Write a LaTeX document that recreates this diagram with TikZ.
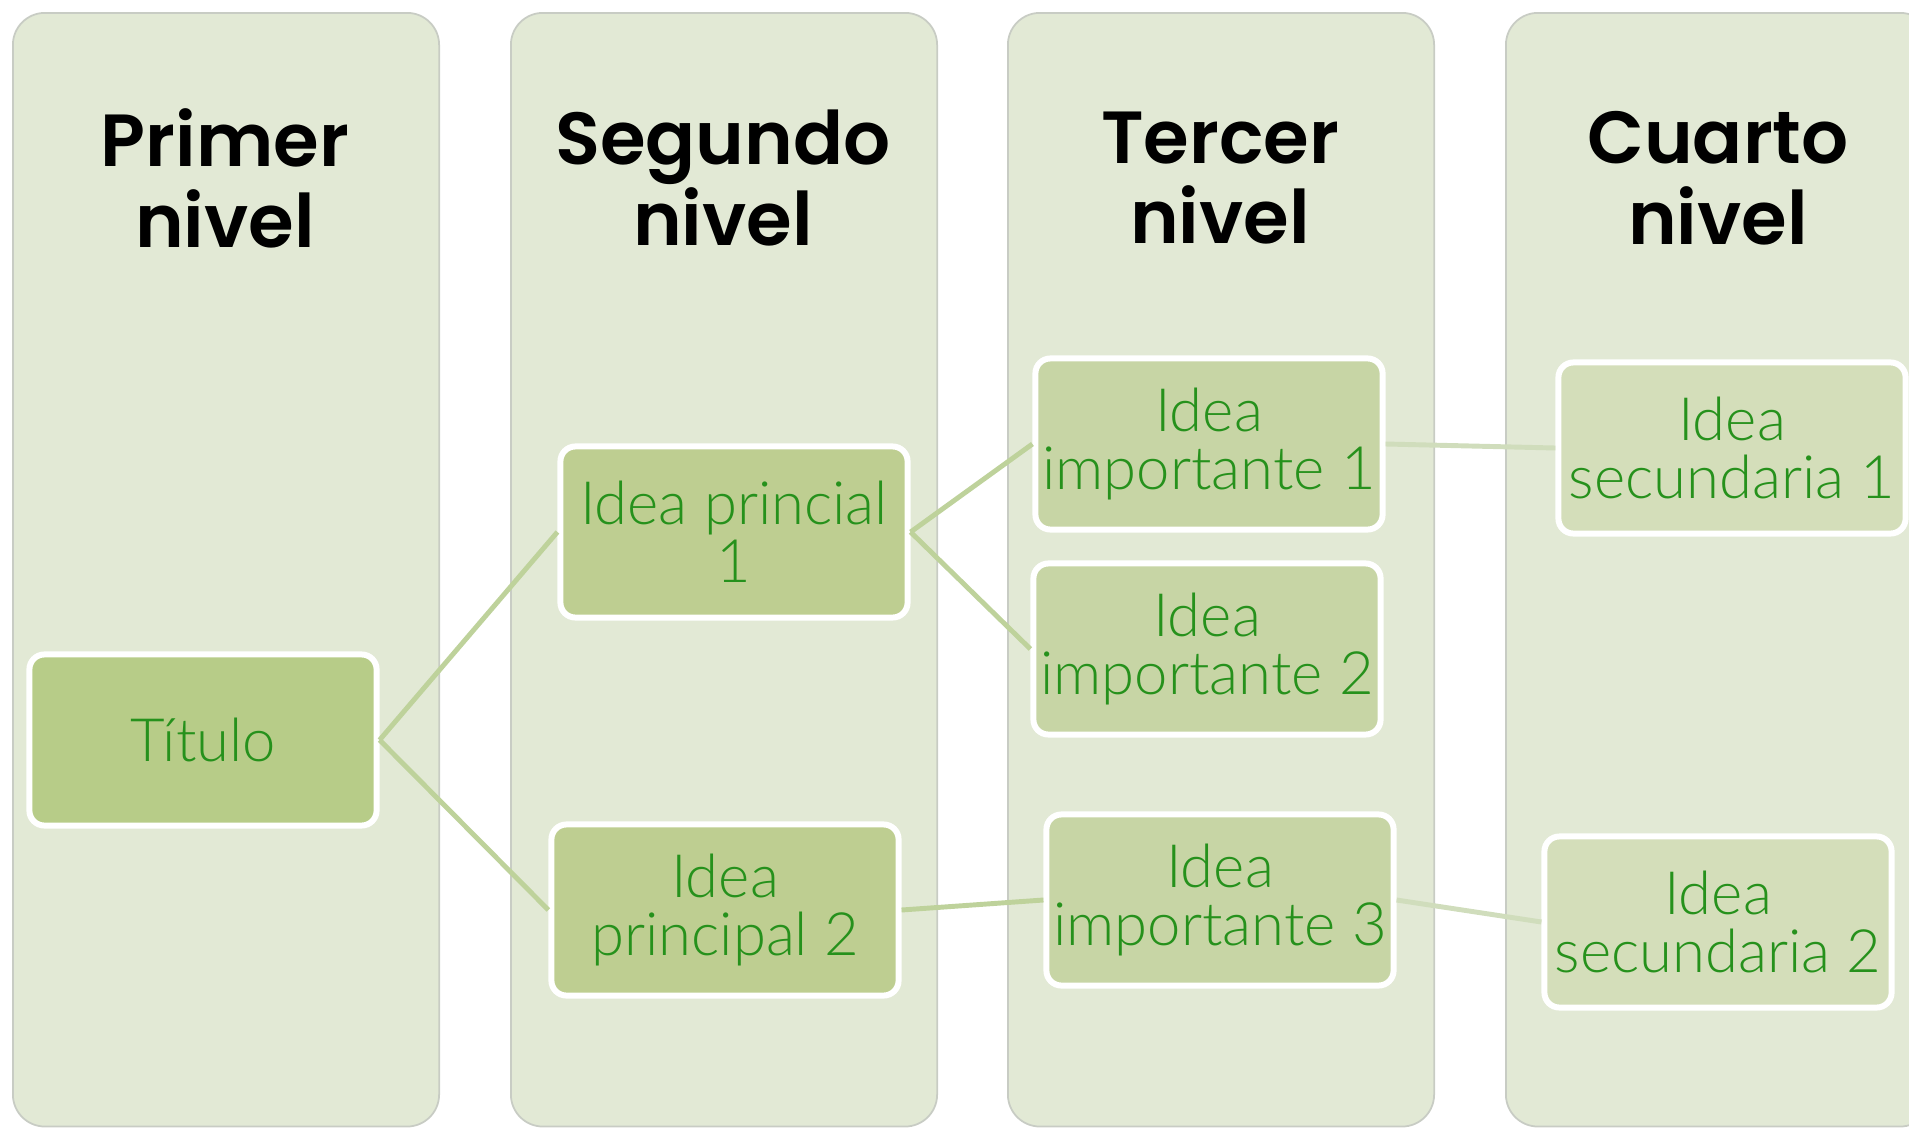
\documentclass[tikz,border=0pt]{standalone}
\usepackage{fontspec}
\setmainfont{Lato Light}
\newfontfamily\headfont{Poppins SemiBold}
\usetikzlibrary{positioning}

\definecolor{fondoNivel}{RGB}{226,233,213}
\definecolor{bordeNivel}{RGB}{200,204,196}
\definecolor{verdeTexto}{RGB}{38,145,28}
\definecolor{ideaTitulo}{RGB}{183,204,136}
\definecolor{ideaPrincipal}{RGB}{190,206,145}
\definecolor{ideaImportante}{RGB}{199,213,165}
\definecolor{ideaSecundaria}{RGB}{212,222,186}
\definecolor{enlaceFuerte}{RGB}{190,210,155}
\definecolor{enlaceSuave}{RGB}{208,221,188}

\tikzset{
  nivel/.style={rectangle, rounded corners=0.32cm, fill=fondoNivel, draw=bordeNivel, line width=0.5pt, minimum width=4.26cm, minimum height=11.13cm, anchor=north west},
  cabecera/.style={align=center, text=black, font=\headfont\fontsize{21}{23}\selectfont},
  idea/.style={rectangle, rounded corners=0.15cm, draw=white, line width=1.7pt, minimum width=3.47cm, minimum height=1.71cm, inner sep=1pt, align=center, text=verdeTexto, font=\fontsize{17}{16.5}\selectfont},
  enlace/.style={line width=1.4pt, enlaceFuerte},
}

\begin{document}
\begin{tikzpicture}[x=0.01cm, y=-0.01cm]
    \useasboundingbox (0, 0) rectangle (1909, 1127);
    \clip (0, 0) rectangle (1909, 1127);

    % columnas
    \node [nivel] (nivelUno) at (12, 12) {};
    \node [nivel] (nivelDos) at (510, 12) {};
    \node [nivel] (nivelTres) at (1007, 12) {};
    \node [nivel] (nivelCuatro) at (1505, 12) {};

    \node [cabecera] (cabUno) at (225, 178) {Primer\\nivel};
    \node [cabecera] (cabDos) at (723, 178) {Segundo\\nivel};
    \node [cabecera] (cabTres) at (1220, 178) {Tercer\\nivel};
    \node [cabecera] (cabCuatro) at (1718, 178) {Cuarto\\nivel};

    % ideas
    \node [idea, fill=ideaTitulo] (titulo) at (203, 740) {Título};
    \node [idea, fill=ideaPrincipal] (principalUno) at (734, 532) {Idea princial\\1};
    \node [idea, fill=ideaPrincipal] (principalDos) at (725, 910) {Idea\\principal 2};
    \node [idea, fill=ideaImportante] (importanteUno) at (1209, 444) {Idea\\importante 1};
    \node [idea, fill=ideaImportante] (importanteDos) at (1207, 649) {Idea\\importante 2};
    \node [idea, fill=ideaImportante] (importanteTres) at (1220, 900) {Idea\\importante 3};
    \node [idea, fill=ideaSecundaria] (secundariaUno) at (1732, 448) {Idea\\secundaria 1};
    \node [idea, fill=ideaSecundaria] (secundariaDos) at (1718, 922) {Idea\\secundaria 2};

    % enlaces
    \draw [enlace] (titulo.east) -- (principalUno.west);
    \draw [enlace] (titulo.east) -- (principalDos.west);
    \draw [enlace] (principalUno.east) -- (importanteUno.west);
    \draw [enlace] (principalUno.east) -- (importanteDos.west);
    \draw [enlace] (principalDos.east) -- (importanteTres.west);
    \draw [enlace, enlaceSuave] (importanteUno.east) -- (secundariaUno.west);
    \draw [enlace, enlaceSuave] (importanteTres.east) -- (secundariaDos.west);
\end{tikzpicture}
\end{document}
